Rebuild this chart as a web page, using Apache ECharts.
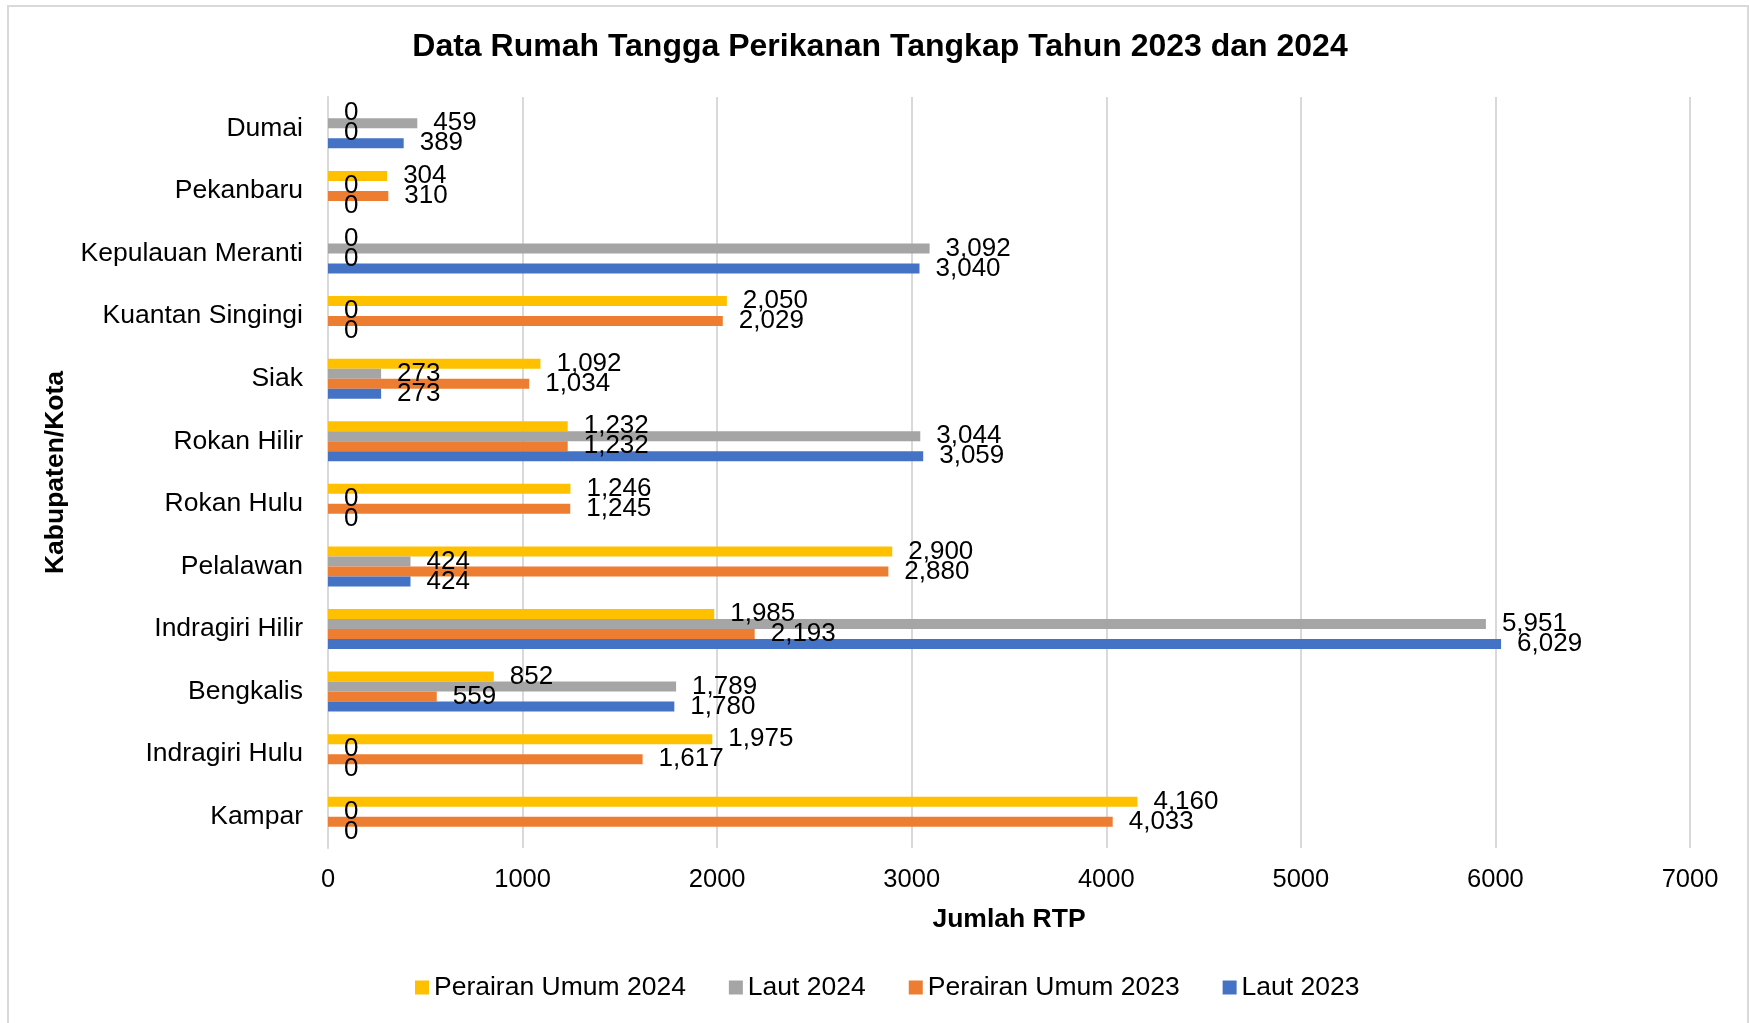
<!DOCTYPE html>
<html>
<head>
<meta charset="utf-8">
<script src="https://cdn.jsdelivr.net/npm/echarts@6/dist/echarts.min.js"></script>
<style>
    html, body { margin: 0; padding: 0; background: #fff; }
    #chart { width: 1749px; height: 1023px; }
</style>
</head>
<body>
<div id="chart"></div>
<script>
// kategori (atas ke bawah)
const kabupaten = ['Dumai', 'Pekanbaru', 'Kepulauan Meranti', 'Kuantan Singingi', 'Siak', 'Rokan Hilir',
    'Rokan Hulu', 'Pelalawan', 'Indragiri Hilir', 'Bengkalis', 'Indragiri Hulu', 'Kampar'];

const perairanUmum2024 = [0, 304, 0, 2050, 1092, 1232, 1246, 2900, 1985, 852, 1975, 4160];
const laut2024 = [459, 0, 3092, 0, 273, 3044, 0, 424, 5951, 1789, 0, 0];
const perairanUmum2023 = [0, 310, 0, 2029, 1034, 1232, 1245, 2880, 2193, 559, 1617, 4033];
const laut2023 = [389, 0, 3040, 0, 273, 3059, 0, 424, 6029, 1780, 0, 0];

const xTicks = [0, 1000, 2000, 3000, 4000, 5000, 6000, 7000];

const font = 'Liberation Sans, Arial, sans-serif';

let myChart = echarts.init(document.getElementById('chart'));

function makeSeries(name, data, color) {
    return {
        name: name,
        type: 'bar',
        barWidth: 10,
        barGap: '0%',
        itemStyle: { color: color },
        label: {
            show: true,
            position: 'right',
            distance: 16,
            color: '#000',
            fontFamily: font,
            fontSize: 26,
            formatter: function (p) {
                return p.value.toLocaleString('en-US')
            }
        },
        data: data
    }
}

let option = {
    backgroundColor: '#fff',
    animation: false,
    textStyle: { fontFamily: font },
    graphic: [{
        type: 'rect',
        shape: { x: 8, y: 6, width: 1740, height: 1040 },
        style: { fill: 'none', stroke: '#d9d9d9', lineWidth: 2 },
        silent: true
    }],
    title: {
        text: 'Data Rumah Tangga Perikanan Tangkap Tahun 2023 dan 2024',
        left: 875,
        top: 26,
        textAlign: 'center',
        textStyle: {
            fontFamily: font,
            fontSize: 32,
            fontWeight: 'bold',
            color: '#000'
        }
    },
    legend: {
        data: ['Perairan Umum 2024', 'Laut 2024', 'Perairan Umum 2023', 'Laut 2023'],
        bottom: 17,
        left: 410,
        icon: 'rect',
        itemWidth: 14,
        itemHeight: 14,
        itemGap: 43,
        textStyle: { fontFamily: font, fontSize: 26.5, color: '#000' }
    },
    grid: {
        left: 328,
        right: 59,
        top: 97,
        bottom: 175
    },
    xAxis: {
        type: 'value',
        min: xTicks[0],
        max: xTicks[xTicks.length - 1],
        interval: 1000,
        name: 'Jumlah RTP',
        nameLocation: 'middle',
        nameGap: 58,
        nameTextStyle: { fontFamily: font, fontSize: 26.5, fontWeight: 'bold', color: '#000' },
        axisLine: { show: false },
        axisTick: { show: false },
        axisLabel: {
            margin: 19, fontFamily: font, fontSize: 25.5, color: '#000',
            formatter: function (v) { return String(v) }
        },
        splitLine: { lineStyle: { color: '#d9d9d9', width: 2 } }
    },
    yAxis: {
        type: 'category',
        inverse: true,
        data: kabupaten,
        name: 'Kabupaten/Kota',
        nameLocation: 'middle',
        nameGap: 257,
        nameTextStyle: { fontFamily: font, fontSize: 26.5, fontWeight: 'bold', color: '#000' },
        axisLine: { show: true, lineStyle: { color: '#d9d9d9', width: 2 } },
        axisTick: { show: false },
        axisLabel: { margin: 25, fontFamily: font, fontSize: 26.5, color: '#000' }
    },
    series: [
        makeSeries('Perairan Umum 2024', perairanUmum2024, '#FFC000'),
        makeSeries('Laut 2024', laut2024, '#A5A5A5'),
        makeSeries('Perairan Umum 2023', perairanUmum2023, '#ED7D31'),
        makeSeries('Laut 2023', laut2023, '#4472C4')
    ]
};

myChart.setOption(option);
</script>
</body>
</html>
